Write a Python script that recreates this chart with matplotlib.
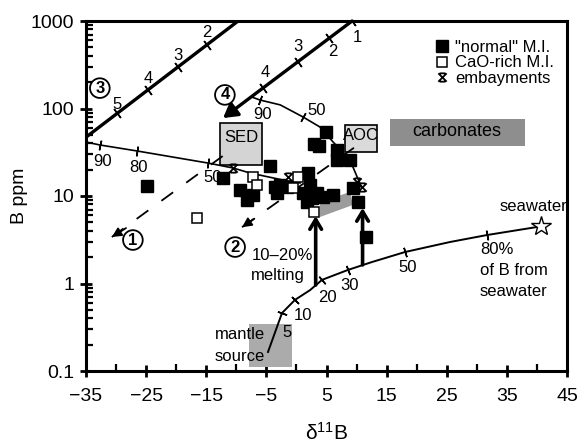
import numpy as np
import matplotlib
matplotlib.use("Agg")
import matplotlib.pyplot as plt
from matplotlib.path import Path
from matplotlib.patches import Rectangle, Polygon
from matplotlib.ticker import FixedLocator, FuncFormatter, LogLocator, NullFormatter

plt.rcParams["font.family"] = ["Liberation Sans", "DejaVu Sans"]
plt.rcParams["mathtext.fontset"] = "custom"
plt.rcParams["mathtext.rm"] = "Liberation Sans"
plt.rcParams["mathtext.it"] = "Liberation Sans:italic"

# measured melt inclusions / embayments (d11B, B ppm)
normal_x = [-24.85, -12.2, -9.4, -8.2, -7.2, -4.4, -3.6, -3.2, -2.7, -1.6, 1.9, 2.3, 1.1,
            3.4, 6.1, 1.8, 2.6, 4.4, 4.9, 2.9, 3.75, 6.75, 6.75, 8.9, 9.4, 10.2, 11.6]
normal_y = [13.0, 16.1, 11.7, 9.0, 10.3, 22.0, 12.7, 10.8, 13.4, 12.7, 18.3, 13.4, 10.8,
            10.8, 10.3, 8.5, 9.5, 9.7, 53.9, 39.3, 37.3, 33.6, 25.8, 25.8, 12.3, 8.5, 3.4]
cao_x = [-16.5, -7.2, -6.6, 0.3, -0.6, 2.9]
cao_y = [5.6, 16.5, 13.4, 16.5, 12.3, 6.6]
emb_x = [-10.55, -1.4, 10.1, 10.9]
emb_y = [20.9, 16.5, 14.5, 12.7]

# mixing / model curves
line3_x = [-35, -9.7]
line3_y = [47, 1000]
line3_ticks = [-29.8, -24.7, -19.7, -14.9]
line3_labels = ["5", "4", "3", "2"]
line3_lab_x = [-29.8, -24.7, -19.7, -14.9]
line3_lab_y = [110, 223, 408, 748]

line4_x = [-12.2, 9.25]
line4_y = [77.8, 1000]
line4_ticks = [-5.56, 0.26, 5.42, 9.25]
line4_labels = ["4", "3", "2", "1"]
line4_lab_x = [-5.2, 0.26, 6.1, 10.1]
line4_lab_y = [261, 505, 443, 640]

aoc_x = [-7.4, -6.06, -2.7, 1.1, 3.9, 6.1, 8.9, 10.1, 10.9]
aoc_y = [135, 125, 110, 80, 61.5, 41.4, 25.8, 16.5, 12.3]
aoc_ticks = [-6.06, 1.1]
aoc_labels = ["90", "50"]
aoc_lab_x = [-5.7, 3.4]
aoc_lab_y = [84.3, 96]

sed_x = [-35, -32.7, -26.5, -14.7, -10.55, -7.7, -2.2, 0.6]
sed_y = [41.4, 38.3, 32.7, 23.8, 20.9, 18.3, 15.2, 14.1]
sed_ticks = [-32.7, -26.5, -14.7]
sed_labels = ["90", "80", "50"]
sed_lab_x = [-32.2, -26.35, -14.0]
sed_lab_y = [24.5, 20.9, 16.1]

sw_x = [-4.73, -2.4, -0.24, 2.26, 4.25, 8.58, 12.57, 18.06, 25.54, 31.69, 40.7]
sw_y = [0.165, 0.46, 0.65, 0.84, 1.10, 1.43, 1.76, 2.29, 2.98, 3.58, 4.5]
sw_ticks = [-2.4, -0.24, 4.25, 8.58, 18.06, 31.69]
sw_labels = ["5", "10", "20", "30", "50"]
sw_lab_x = [-1.6, 1.1, 5.1, 8.9, 18.55]
sw_lab_y = [0.272, 0.43, 0.70, 0.96, 1.54]


def tick_marks(ax, cx, cy, tx, size=7):
    lx = np.log10(cy)
    tx = np.asarray(tx, float)
    ty = 10 ** np.interp(tx, cx, lx)
    bx = tx - 0.3
    by = 10 ** np.interp(bx, cx, lx)
    p = ax.transData.transform(np.column_stack([tx, ty]))
    q = ax.transData.transform(np.column_stack([bx, by]))
    ang = np.degrees(np.arctan2(p[:, 1] - q[:, 1], p[:, 0] - q[:, 0]))
    for x, y, a in zip(tx, ty, ang):
        ax.plot(x, y, marker=(2, 2, a), ms=size, mec="k", mew=1.1, zorder=4)


def circled(ax, x, y, s):
    ax.text(x, y, s, ha="center", va="center", fontsize=12, fontweight="bold", zorder=7,
            bbox=dict(boxstyle="circle,pad=0.14", fc="white", ec="black", lw=1.3))


emb_marker = Path([(-1, 1), (1, -1), (1, 1), (-1, -1), (-0.7, 1), (0.7, 1), (-0.7, -1), (0.7, -1)],
                  [Path.MOVETO, Path.LINETO, Path.MOVETO, Path.LINETO,
                   Path.MOVETO, Path.LINETO, Path.MOVETO, Path.LINETO])

fig = plt.figure(figsize=(5.84, 4.43), dpi=100)
ax = fig.add_axes([86 / 584, 1 - 371 / 443, (567 - 86) / 584, (371 - 21) / 443])
ax.set_yscale("log")
ax.set_xlim(-35, 45)
ax.set_ylim(0.1, 1000)

# fields
ax.add_patch(Rectangle((-12.7, 22.6), 7.0, 68.2 - 22.6, fc="#d4d4d4", ec="k", lw=1.2, zorder=2))
ax.add_patch(Rectangle((8.1, 31.8), 5.3, 64.8 - 31.8, fc="#dadada", ec="k", lw=1.2, zorder=2))
ax.add_patch(Rectangle((15.55, 37.3), 22.45, 75.9 - 37.3, fc="#8e8e8e", ec="none", zorder=2))
ax.add_patch(Rectangle((-7.9, 0.111), 7.2, 0.344 - 0.111, fc="#ababab", ec="none", zorder=2))
ax.add_patch(Polygon([(3.9, 8.5), (8.9, 11.1), (9.4, 7.9), (3.9, 5.75)], closed=True,
                     fc="#9c9c9c", ec="none", zorder=2))
ax.text(-9.2, 47.2, "SED", ha="center", va="center", fontsize=12, zorder=6)
ax.text(10.7, 48.5, "AOC", ha="center", va="center", fontsize=12, zorder=6)
ax.text(26.7, 53.9, "carbonates", ha="center", va="center", fontsize=13, zorder=6)

# model lines
ax.plot(line3_x, line3_y, color="k", lw=2.4, zorder=3)
ax.annotate("", xy=(line4_x[0], line4_y[0]), xytext=(line4_x[1], line4_y[1]),
            arrowprops=dict(arrowstyle="-|>,head_length=0.6,head_width=0.35", lw=2.4, color="k",
                            shrinkA=0, shrinkB=0, mutation_scale=14), zorder=3)
ax.plot(aoc_x, aoc_y, color="k", lw=1.2, zorder=3)
ax.plot(sed_x, sed_y, color="k", lw=1.2, zorder=3)
ax.plot(sw_x, sw_y, color="k", lw=1.4, zorder=3)

tick_marks(ax, line3_x, line3_y, line3_ticks, 8)
tick_marks(ax, line4_x, line4_y, line4_ticks, 8)
tick_marks(ax, aoc_x, aoc_y, aoc_ticks)
tick_marks(ax, sed_x, sed_y, sed_ticks)
tick_marks(ax, sw_x, sw_y, sw_ticks)

for xs, ys, labs in [(line3_lab_x, line3_lab_y, line3_labels), (line4_lab_x, line4_lab_y, line4_labels),
                     (aoc_lab_x, aoc_lab_y, aoc_labels), (sed_lab_x, sed_lab_y, sed_labels),
                     (sw_lab_x, sw_lab_y, sw_labels)]:
    for x, y, s in zip(xs, ys, labs):
        ax.text(x, y, s, ha="center", va="center", fontsize=12, zorder=6)

# dashed trends with arrows
ax.plot([-30.7, -10.2], [3.4, 36.3], color="k", lw=1.3, ls=(0, (8, 9)), zorder=3)
ax.annotate("", xy=(-30.7, 3.4), xytext=(-28.35, 4.3),
            arrowprops=dict(arrowstyle="-|>", lw=1.3, color="k", shrinkA=0, shrinkB=0,
                            mutation_scale=14), zorder=3)
ax.plot([-9.05, 9.75], [4.4, 36.3], color="k", lw=1.3, ls=(0, (8, 9)), zorder=3)
ax.annotate("", xy=(-9.05, 4.4), xytext=(-7.0, 5.5),
            arrowprops=dict(arrowstyle="-|>", lw=1.3, color="k", shrinkA=0, shrinkB=0,
                            mutation_scale=14), zorder=3)

# melting arrows
for x0, y0, y1 in [(3.2, 0.96, 5.9), (11.0, 1.63, 7.3)]:
    ax.annotate("", xy=(x0, y1), xytext=(x0, y0),
                arrowprops=dict(arrowstyle="->,head_length=0.5,head_width=0.3", lw=2.6, color="k",
                                shrinkA=0, shrinkB=0, mutation_scale=14), zorder=3)

circled(ax, -32.7, 171, "3")
circled(ax, -11.9, 143, "4")
circled(ax, -27.2, 3.14, "1")
circled(ax, -10.2, 2.61, "2")

# data
ax.plot(normal_x, normal_y, "s", ms=8, mfc="k", mec="k", ls="none", zorder=5, label='"normal" M.I.')
ax.plot(cao_x, cao_y, "s", ms=7, mfc="white", mec="k", mew=1.1, ls="none", zorder=5, label="CaO-rich M.I.")
ax.plot(emb_x, emb_y, marker=emb_marker, ms=6, mfc="none", mec="k", mew=1.3, ls="none", zorder=6,
        label="embayments")
ax.plot(sw_x[-1], sw_y[-1], marker="*", ms=15, mfc="white", mec="k", mew=1.0, zorder=6)

# annotations
ax.text(-2.4, 2.1, "10–20%", ha="center", va="center", fontsize=12)
ax.text(-3.1, 1.25, "melting", ha="center", va="center", fontsize=12)
ax.text(-13.6, 0.258, "mantle", ha="left", va="center", fontsize=12)
ax.text(-13.6, 0.145, "source", ha="left", va="center", fontsize=12)
ax.text(39.5, 7.5, "seawater", ha="center", va="center", fontsize=12)
ax.text(30.5, 2.42, "80%", ha="left", va="center", fontsize=12)
ax.text(30.5, 1.39, "of B from", ha="left", va="center", fontsize=12)
ax.text(30.5, 0.80, "seawater", ha="left", va="center", fontsize=12)

ax.legend(loc="upper right", bbox_to_anchor=(1.0, 0.985), frameon=False, fontsize=12,
          handlelength=0.7, handletextpad=0.4, labelspacing=0.05, borderpad=0.3)

# axes styling
for sp in ax.spines.values():
    sp.set_linewidth(2.2)
ax.xaxis.set_major_locator(FixedLocator(np.arange(-35, 46, 10)))
ax.xaxis.set_minor_locator(FixedLocator(np.arange(-30, 45, 10)))
ax.yaxis.set_major_locator(LogLocator(base=10, numticks=10))
ax.yaxis.set_minor_locator(LogLocator(base=10, subs=np.arange(2, 10), numticks=20))
ax.yaxis.set_major_formatter(FuncFormatter(lambda v, p: f"{v:g}"))
ax.yaxis.set_minor_formatter(NullFormatter())
ax.tick_params(which="major", direction="inout", length=9, width=2, labelsize=14, pad=4,
               top=False, right=False)
ax.tick_params(axis="x", which="major", pad=8)
ax.tick_params(which="minor", direction="in", length=5, width=1.6, top=False, right=False)
ax.set_xlabel("δ$^{11}$B", fontsize=15, labelpad=12)
ax.set_ylabel("B ppm", fontsize=14, labelpad=2)

fig.savefig("out.png", dpi=100)
